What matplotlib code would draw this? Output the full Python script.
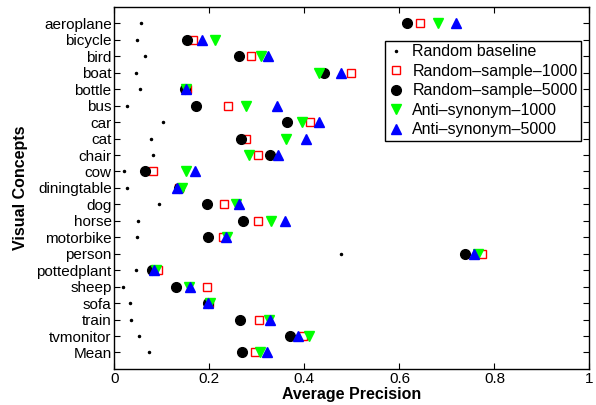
import matplotlib
matplotlib.use("Agg")
import matplotlib.pyplot as plt
import numpy as np

plt.rcParams['font.family'] = ['Liberation Sans', 'DejaVu Sans']

categories = ["aeroplane", "bicycle", "bird", "boat", "bottle", "bus", "car", "cat",
              "chair", "cow", "diningtable", "dog", "horse", "motorbike", "person",
              "pottedplant", "sheep", "sofa", "train", "tvmonitor", "Mean"]

random_baseline = [0.055, 0.047, 0.065, 0.045, 0.053, 0.026, 0.103, 0.078, 0.081, 0.020,
                   0.026, 0.093, 0.049, 0.047, 0.478, 0.045, 0.018, 0.032, 0.035, 0.051, 0.072]
random_sample_1000 = [0.643, 0.165, 0.288, 0.499, 0.152, 0.240, 0.412, 0.276, 0.303, 0.081,
                      0.136, 0.231, 0.303, 0.229, 0.773, 0.091, 0.195, 0.200, 0.305, 0.396, 0.295]
random_sample_5000 = [0.615, 0.153, 0.262, 0.442, 0.148, 0.172, 0.364, 0.267, 0.328, 0.065,
                      0.135, 0.194, 0.271, 0.198, 0.739, 0.079, 0.130, 0.196, 0.264, 0.370, 0.269]
anti_synonym_1000 = [0.681, 0.211, 0.309, 0.431, 0.150, 0.276, 0.395, 0.361, 0.283, 0.150,
                     0.142, 0.255, 0.330, 0.238, 0.766, 0.088, 0.156, 0.202, 0.326, 0.409, 0.307]
anti_synonym_5000 = [0.719, 0.185, 0.323, 0.478, 0.151, 0.342, 0.430, 0.403, 0.344, 0.169,
                     0.131, 0.262, 0.360, 0.234, 0.758, 0.083, 0.160, 0.197, 0.328, 0.387, 0.321]

y = np.arange(1, len(categories) + 1)

fig = plt.figure(figsize=(5.96, 4.05), dpi=100)
ax = fig.add_axes([0.192, 0.089, 0.797, 0.894])

ax.plot(random_baseline, y, linestyle='none', marker='.', color='black', markersize=3,
        label='Random baseline')
ax.plot(random_sample_1000, y, linestyle='none', marker='s', markerfacecolor='none',
        markeredgecolor='red', markeredgewidth=1.0, markersize=5.5, label='Random–sample–1000')
ax.plot(random_sample_5000, y, linestyle='none', marker='o', color='black', markersize=7,
        label='Random–sample–5000')
ax.plot(anti_synonym_1000, y, linestyle='none', marker='v', color='#00ff00', markersize=7.5,
        label='Anti–synonym–1000')
ax.plot(anti_synonym_5000, y, linestyle='none', marker='^', color='blue', markersize=7.5,
        label='Anti–synonym–5000')

ax.set_xlim(0, 1)
ax.set_ylim(len(categories) + 1, 0)
ax.set_yticks(y)
ax.set_yticklabels(categories, fontsize=11)
ax.set_xticks([0, 0.2, 0.4, 0.6, 0.8, 1])
ax.set_xticklabels(['0', '0.2', '0.4', '0.6', '0.8', '1'], fontsize=11)
ax.tick_params(direction='in', top=True, right=True, length=4, width=0.8, pad=2)
for s in ax.spines.values():
    s.set_linewidth(1.0)

ax.set_xlabel('Average Precision', fontsize=11.5, fontweight='bold', labelpad=1)
ax.set_ylabel('Visual Concepts', fontsize=11.5, fontweight='bold', labelpad=6)

leg = ax.legend(loc='upper right', bbox_to_anchor=(0.982, 0.905), fontsize=11.5,
                frameon=True, fancybox=False, edgecolor='black', framealpha=1,
                handlelength=1.0, handletextpad=0.5, labelspacing=0.28, borderpad=0.2,
                borderaxespad=0, numpoints=1)
leg.get_frame().set_linewidth(1.0)

fig.savefig('out.png', dpi=100)
